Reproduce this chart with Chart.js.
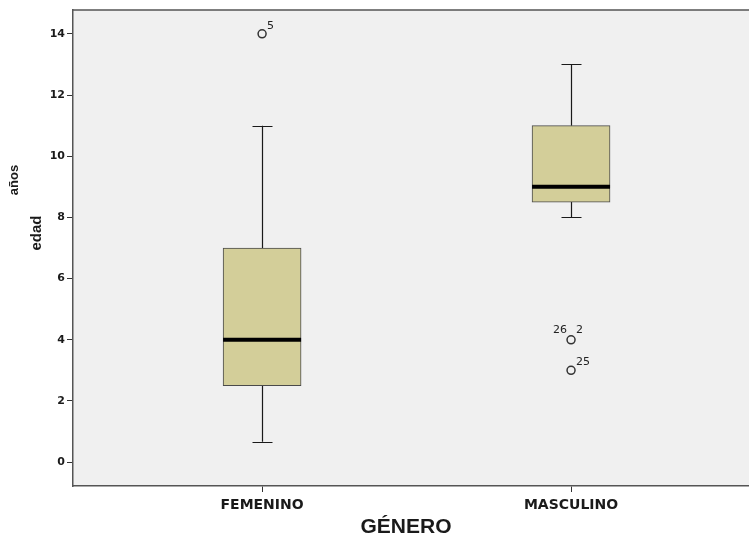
<!DOCTYPE html>
<html lang="es">
<head>
  <meta charset="UTF-8">
  <title>edad por género</title>
  <script src="https://cdn.jsdelivr.net/npm/chart.js"></script>
  <style>
    html, body { margin: 0; padding: 0; background: #ffffff; overflow: hidden; }
    canvas { display: block; }
  </style>
</head>
<body>
  <canvas id="boxChart" width="749" height="542"></canvas>

  <script>
    // datos del diagrama de caja
    const categories = ['FEMENINO', 'MASCULINO'];
    const whiskerLow = [0.67, 8];
    const q1 = [2.5, 8.5];
    const median = [4, 9];
    const q3 = [7, 11];
    const whiskerHigh = [11, 13];
    const outlierGroup = [0, 1, 1];
    const outlierValue = [14, 4, 3];
    const outlierLabel = [['5'], ['26', '2'], ['25']];
    const yTicks = [0, 2, 4, 6, 8, 10, 12, 14];

    const boxFill = '#d3ce99';
    const ink = '#1a1a1a';

    // fondo del área, marco superior, bigotes, medianas y etiquetas
    const boxPlugin = {
      id: 'boxPlugin',
      beforeDraw(chart) {
        const { ctx, chartArea: a } = chart;
        ctx.save();
        ctx.fillStyle = '#f0f0f0';
        ctx.fillRect(a.left, a.top, a.right - a.left, a.bottom - a.top);
        ctx.restore();
      },
      beforeDatasetsDraw(chart) {
        const { ctx, scales: { x, y } } = chart;
        ctx.save();
        ctx.strokeStyle = ink;
        ctx.lineWidth = 1.2;
        categories.forEach((c, i) => {
          const px = Math.round(x.getPixelForValue(i)) + 0.5;
          ctx.beginPath();
          ctx.moveTo(px, y.getPixelForValue(whiskerLow[i]));
          ctx.lineTo(px, y.getPixelForValue(q1[i]));
          ctx.moveTo(px, y.getPixelForValue(q3[i]));
          ctx.lineTo(px, y.getPixelForValue(whiskerHigh[i]));
          [whiskerLow[i], whiskerHigh[i]].forEach(v => {
            const py = Math.round(y.getPixelForValue(v)) + 0.5;
            ctx.moveTo(px - 10, py);
            ctx.lineTo(px + 10, py);
          });
          ctx.stroke();
        });
        ctx.restore();
      },
      afterDatasetsDraw(chart) {
        const { ctx, chartArea: a, scales: { x, y } } = chart;
        ctx.save();
        ctx.strokeStyle = '#000';
        ctx.lineWidth = 4;
        categories.forEach((c, i) => {
          const px = x.getPixelForValue(i);
          const py = y.getPixelForValue(median[i]);
          ctx.beginPath();
          ctx.moveTo(px - 39, py);
          ctx.lineTo(px + 39, py);
          ctx.stroke();
        });
        // etiquetas de casos atípicos
        ctx.fillStyle = '#222';
        ctx.font = '11px "DejaVu Sans"';
        ctx.textBaseline = 'alphabetic';
        outlierValue.forEach((v, i) => {
          const px = x.getPixelForValue(outlierGroup[i]);
          const py = y.getPixelForValue(v);
          const labs = outlierLabel[i];
          if (labs.length === 1) {
            ctx.textAlign = 'left';
            ctx.fillText(labs[0], px + 5, py - 5);
          } else {
            ctx.textAlign = 'right';
            ctx.fillText(labs[0], px - 4, py - 7);
            ctx.textAlign = 'left';
            ctx.fillText(labs[1], px + 5, py - 7);
          }
        });
        // marco superior
        ctx.strokeStyle = '#555';
        ctx.lineWidth = 1.5;
        ctx.beginPath();
        ctx.moveTo(a.left, a.top);
        ctx.lineTo(a.right, a.top);
        ctx.stroke();
        // título del eje y
        ctx.fillStyle = ink;
        ctx.textAlign = 'center';
        ctx.textBaseline = 'middle';
        ctx.save();
        ctx.translate(14, 180);
        ctx.rotate(-Math.PI / 2);
        ctx.font = 'bold 13px "Liberation Sans"';
        ctx.fillText('años', 0, 0);
        ctx.restore();
        ctx.save();
        ctx.translate(37, 233);
        ctx.rotate(-Math.PI / 2);
        ctx.font = 'bold 15px "Liberation Sans"';
        ctx.fillText('edad', 0, 0);
        ctx.restore();
        // título del eje x
        ctx.font = 'bold 21px "Liberation Sans"';
        ctx.fillText('GÉNERO', 406, 527);
        ctx.restore();
      }
    };

    new Chart(document.getElementById('boxChart'), {
      data: {
        datasets: [
          {
            type: 'bar',
            data: categories.map((c, i) => ({ x: i, y: [q1[i], q3[i]] })),
            backgroundColor: boxFill,
            borderColor: '#4a4a4a',
            borderWidth: 1,
            borderSkipped: false,
            barThickness: 78,
            order: 2
          },
          {
            type: 'scatter',
            data: outlierValue.map((v, i) => ({ x: outlierGroup[i], y: v })),
            pointStyle: 'circle',
            pointRadius: 4,
            pointBorderWidth: 1.5,
            pointBorderColor: '#333',
            pointBackgroundColor: '#f0f0f0',
            order: 1
          }
        ]
      },
      options: {
        responsive: false,
        animation: false,
        devicePixelRatio: 1,
        layout: { autoPadding: false, padding: { top: 10, right: 0, left: 0, bottom: 0 } },
        plugins: {
          legend: { display: false },
          tooltip: { enabled: false }
        },
        scales: {
          x: {
            type: 'linear',
            offset: false,
            min: -0.612,
            max: 1.576,
            afterBuildTicks: s => { s.ticks = categories.map((c, i) => ({ value: i })); },
            afterFit: s => { s.height = 56; },
            ticks: {
              callback: v => categories[v],
              color: '#1a1a1a',
              font: { family: 'DejaVu Sans', weight: 'bold', size: 14 },
              padding: 5,
              maxRotation: 0
            },
            grid: { offset: false, drawOnChartArea: false, tickLength: 6, color: '#333', tickWidth: 1 },
            border: { color: '#555', width: 1.5 }
          },
          y: {
            min: -0.78,
            max: 14.78,
            afterBuildTicks: s => { s.ticks = yTicks.map(v => ({ value: v })); },
            afterFit: s => { s.width = 73; },
            ticks: {
              color: '#1a1a1a',
              font: { family: 'DejaVu Sans', weight: 'bold', size: 11 },
              padding: 2
            },
            grid: { drawOnChartArea: false, tickLength: 6, color: '#333', tickWidth: 1 },
            border: { color: '#555', width: 1.5 }
          }
        }
      },
      plugins: [boxPlugin]
    });
  </script>
</body>
</html>
